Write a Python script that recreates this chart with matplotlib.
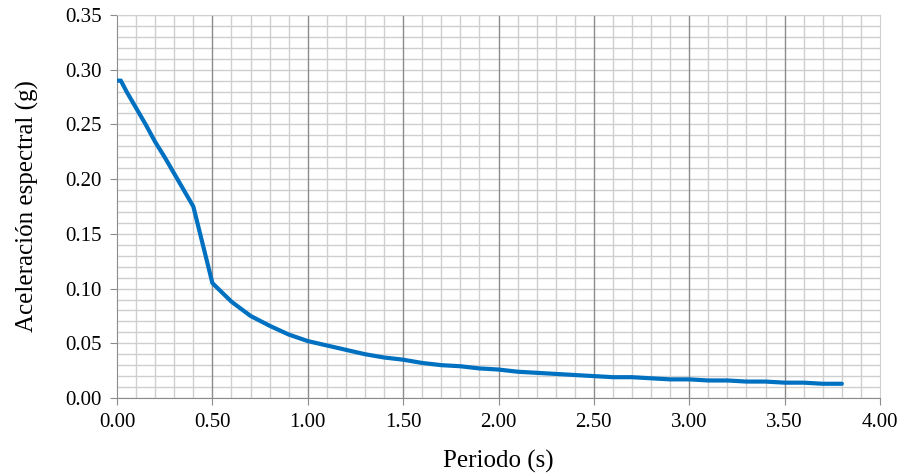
import matplotlib
matplotlib.use("Agg")
import matplotlib.pyplot as plt
import numpy as np
from matplotlib.ticker import MultipleLocator, FormatStrFormatter

periodo = [0.00, 0.02, 0.05, 0.10, 0.15, 0.20, 0.25, 0.30, 0.35, 0.40, 0.50,
           0.60, 0.70, 0.80, 0.90, 1.00, 1.10, 1.20, 1.30, 1.40, 1.50, 1.60,
           1.70, 1.80, 1.90, 2.00, 2.10, 2.20, 2.30, 2.40, 2.50, 2.60, 2.70,
           2.80, 2.90, 3.00, 3.10, 3.20, 3.30, 3.40, 3.50, 3.60, 3.70, 3.80]
aceleracion = [0.290, 0.290, 0.280, 0.265, 0.250, 0.234, 0.220, 0.205, 0.190, 0.175, 0.105,
               0.088, 0.075, 0.066, 0.058, 0.052, 0.048, 0.044, 0.040, 0.037, 0.035, 0.032,
               0.030, 0.029, 0.027, 0.026, 0.024, 0.023, 0.022, 0.021, 0.020, 0.019, 0.019,
               0.018, 0.017, 0.017, 0.016, 0.016, 0.015, 0.015, 0.014, 0.014, 0.013, 0.013]

plt.rcParams['font.family'] = ['Liberation Serif', 'DejaVu Serif']

fig = plt.figure(figsize=(9.03, 4.76), dpi=100)
ax = fig.add_axes([0.1296, 0.1639, 0.8449, 0.8046])

ax.set_xlim(0, 4.0)
ax.set_ylim(0, 0.35)
ax.xaxis.set_major_locator(MultipleLocator(0.5))
ax.xaxis.set_minor_locator(MultipleLocator(0.1))
ax.yaxis.set_major_locator(MultipleLocator(0.05))
ax.yaxis.set_minor_locator(MultipleLocator(0.01))
ax.xaxis.set_major_formatter(FormatStrFormatter('%.2f'))
ax.yaxis.set_major_formatter(FormatStrFormatter('%.2f'))

ax.grid(which='minor', color='#cfcfcf', linewidth=1.0)
ax.grid(which='major', axis='y', color='#cfcfcf', linewidth=1.0)
ax.set_axisbelow(True)
for xv in ax.get_xticks():
    if 0 < xv < 4.0:
        ax.axvline(xv, color='#8c8c8c', linewidth=1.0, zorder=1)

for s in ['top', 'right']:
    ax.spines[s].set_color('#cfcfcf')
for s in ['left', 'bottom']:
    ax.spines[s].set_color('#8c8c8c')

ax.tick_params(which='major', length=5, color='#8c8c8c', labelsize=15, pad=6)
ax.tick_params(which='minor', length=0)

ax.plot(periodo, aceleracion, color='#0070C0', linewidth=3.0, solid_capstyle='round', zorder=3)

ax.set_xlabel('Periodo (s)', fontsize=18, labelpad=13)
ax.set_ylabel('Aceleración espectral (g)', fontsize=18, labelpad=19)

fig.savefig('out.png', dpi=100)
